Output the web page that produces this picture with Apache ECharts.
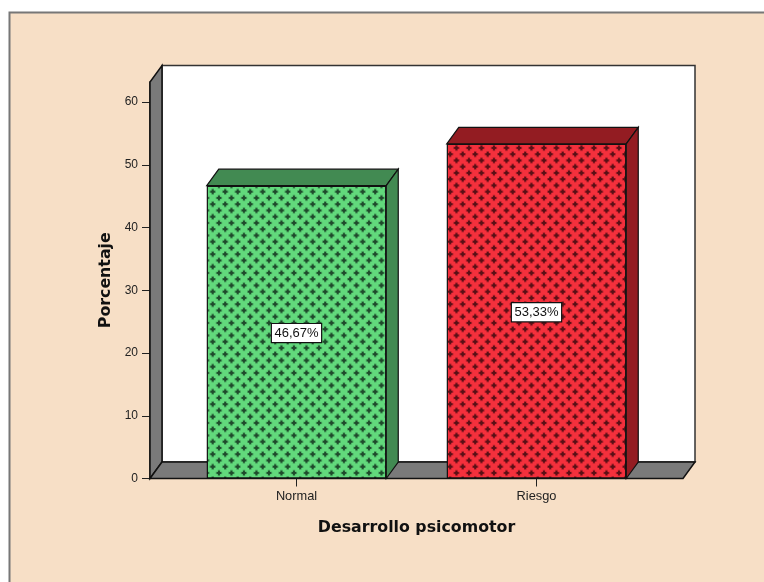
<!DOCTYPE html>
<html>
<head>
<meta charset="utf-8">
<style>
html,body{margin:0;padding:0;background:#fff}
#chart{width:764px;height:582px}
</style>
<script src="https://cdn.jsdelivr.net/npm/echarts@6/dist/echarts.min.js"></script>
</head>
<body>
<div id="chart"></div>
<script>
const categories = ['Normal', 'Riesgo'];
const values = [46.67, 53.33];
const yTicks = [0, 10, 20, 30, 40, 50, 60];
const xName = 'Desarrollo psicomotor';
const yName = 'Porcentaje';

const depthX = 12, depthY = 16.5, wallPad = 26.5;
const FONT = '"Liberation Sans", Arial, sans-serif';

function patternTile(bg, fg) {
  const period = 12.5, size = 25, off = [0.2, 4.2];
  const c = document.createElement('canvas');
  c.width = size; c.height = size;
  const g = c.getContext('2d');
  g.fillStyle = bg; g.fillRect(0, 0, size, size);
  for (let i = -1; i < 6; i++) for (let j = -1; j < 6; j++) {
    const x = off[0] + i * period / 2, y = off[1] + j * period / 2;
    if ((i + j) % 2 !== 0) continue;
    g.fillStyle = fg;
    g.globalAlpha = 0.4;
    g.fillRect(x - 3.2, y - 1.2, 6.4, 2.4);
    g.fillRect(x - 1.2, y - 3.2, 2.4, 6.4);
    g.globalAlpha = 1;
    g.fillRect(x - 2.2, y - 0.9, 4.4, 1.8);
    g.fillRect(x - 0.9, y - 2.2, 1.8, 4.4);
  }
  return c;
}
const fronts = [
  { image: patternTile('#62d97c', '#1f4a2c'), repeat: 'repeat' },
  { image: patternTile('#f4303c', '#5a1016'), repeat: 'repeat' }
];
const sides = ['#428a52', '#931c22'];
const barWidth = 179.5;

function frameItem(params, api) {
  const cs = params.coordSys;
  const l = cs.x - wallPad, r = cs.x + cs.width + wallPad, t = cs.y, b = cs.y + cs.height;
  const line = { stroke: '#111', lineWidth: 1.5 };
  return { type: 'group', children: [
    { type: 'rect', shape: { x: l + depthX, y: t - depthY, width: r - l, height: b - t }, style: { fill: '#fff', stroke: '#333', lineWidth: 1.5 } },
    { type: 'polygon', shape: { points: [[l, b], [l, t], [l + depthX, t - depthY], [l + depthX, b - depthY]] }, style: { fill: '#7a7a7a', ...line } },
    { type: 'polygon', shape: { points: [[l, b], [l + depthX, b - depthY], [r + depthX, b - depthY], [r, b]] }, style: { fill: '#7a7a7a', ...line } }
  ] };
}
function extrudeItem(params, api) {
  const i = api.value(0), v = api.value(1);
  const top = api.coord([i, v]), base = api.coord([i, 0]);
  const hw = barWidth / 2, x0 = top[0] - hw, x1 = top[0] + hw;
  const st = { fill: sides[i], stroke: '#111', lineWidth: 1.2 };
  return { type: 'group', children: [
    { type: 'polygon', shape: { points: [[x0, top[1]], [x0 + depthX, top[1] - depthY], [x1 + depthX, top[1] - depthY], [x1, top[1]]] }, style: st },
    { type: 'polygon', shape: { points: [[x1, top[1]], [x1 + depthX, top[1] - depthY], [x1 + depthX, base[1] - depthY], [x1, base[1]]] }, style: st }
  ] };
}

const chart = echarts.init(document.getElementById('chart'), null, { renderer: 'canvas' });
chart.setOption({
  animation: false,
  backgroundColor: 'transparent',
  graphic: [{
    type: 'rect', z: -10, silent: true,
    shape: { x: 9.5, y: 12.5, width: 800, height: 600 },
    style: { fill: '#f7dfc6', stroke: '#777', lineWidth: 2 }
  }],
  grid: { left: 176.5, top: 82, width: 480, height: 396.5, containLabel: false },
  xAxis: {
    type: 'category', data: categories,
    axisTick: { show: true, alignWithLabel: true, length: 8, lineStyle: { color: '#222', width: 1 } },
    axisLine: { show: false },
    axisLabel: { color: '#222', fontFamily: FONT, fontSize: 12.8, margin: 11 },
    name: xName, nameLocation: 'center', nameGap: 41,
    nameTextStyle: { color: '#111', fontFamily: '"DejaVu Sans", sans-serif', fontWeight: 'bold', fontSize: 15.8 },
    splitLine: { show: false }
  },
  yAxis: {
    type: 'value', min: 0, max: 63.2, interval: 10,
    offset: wallPad,
    axisLine: { show: true, lineStyle: { color: '#111', width: 1.5 } },
    axisTick: { show: true, length: 8, customValues: yTicks, lineStyle: { color: '#222', width: 1 } },
    axisLabel: { color: '#222', fontFamily: FONT, fontSize: 12, margin: 12, customValues: yTicks },
    splitLine: { show: false },
    name: yName, nameLocation: 'center', nameGap: 35,
    nameTextStyle: { color: '#111', fontFamily: '"DejaVu Sans", sans-serif', fontWeight: 'bold', fontSize: 15.8 }
  },
  series: [
    { type: 'custom', z: 1, silent: true, clip: false, renderItem: frameItem, data: [[0, 0]], encode: { x: 0, y: 1 } },
    { type: 'custom', z: 2, silent: true, clip: false, renderItem: extrudeItem, data: values.map((v, i) => [i, v]), encode: { x: 0, y: 1 } },
    {
      type: 'bar', z: 3, barWidth: barWidth,
      data: values.map((v, i) => ({
        value: v,
        itemStyle: { color: fronts[i], borderColor: '#111', borderWidth: 1.2 }
      })),
      label: {
        show: true, position: 'inside', offset: [0, 1], color: '#111', fontFamily: FONT, fontSize: 13,
        backgroundColor: '#fff', borderColor: '#111', borderWidth: 1.2, padding: [3, 2.5, 2, 2.5],
        formatter: p => p.value.toFixed(2).replace('.', ',') + '%'
      }
    }
  ]
});
</script>
</body>
</html>
